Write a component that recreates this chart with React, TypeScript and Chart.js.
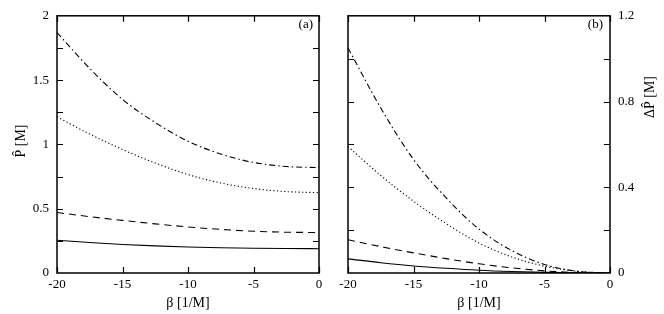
import React, { useEffect, useRef } from "react";
import { Chart, registerables } from "chart.js";

Chart.register(...registerables);

const betaValues = [-20, -17.5, -15, -12.5, -10, -7.5, -5, -2.5, 0];

// Panel (a): P-hat [M]
const pSolid = [0.255, 0.237, 0.222, 0.211, 0.202, 0.196, 0.192, 0.19, 0.189];
const pDashed = [0.47, 0.438, 0.409, 0.382, 0.358, 0.339, 0.325, 0.317, 0.315];
const pDotted = [1.215, 1.08, 0.96, 0.855, 0.765, 0.7, 0.657, 0.633, 0.625];
const pDashDot = [1.87, 1.59, 1.35, 1.17, 1.025, 0.925, 0.86, 0.828, 0.82];

// Panel (b): Delta P-hat [M]
const dSolid = [0.066, 0.048, 0.033, 0.022, 0.013, 0.007, 0.003, 0.001, 0];
const dDashed = [0.155, 0.123, 0.094, 0.067, 0.043, 0.024, 0.01, 0.002, 0];
const dDotted = [0.59, 0.455, 0.335, 0.23, 0.14, 0.075, 0.032, 0.008, 0];
const dDashDot = [1.05, 0.77, 0.53, 0.35, 0.205, 0.105, 0.04, 0.008, 0];

const xTicks = [-20, -15, -10, -5, 0];
const leftYTicks = [0, 0.5, 1, 1.5, 2];
const rightYTicks = [0, 0.4, 0.8, 1.2];

const FONT = '"Liberation Serif", "Times New Roman", Times, serif';

const styles = [
  { dash: [] as number[] },
  { dash: [7, 5] },
  { dash: [1.2, 2.4] },
  { dash: [6, 3, 1.5, 3] },
];

function makeDatasets(series: number[][]) {
  return series.map((vals, i) => ({
    data: vals.map((v, j) => ({ x: betaValues[j], y: v })),
    borderColor: "#000",
    borderWidth: 1.1,
    borderDash: styles[i].dash,
    pointRadius: 0,
    fill: false,
    cubicInterpolationMode: "monotone" as const,
  }));
}

function framePlugin(minorStep: number, yMax: number, opts: {
  yTitle: string; yTitleX: number; yTitleY: number; xTitleX: number; tag: string; tagX: number;
}) {
  return {
    id: "frame" + opts.tag.replace(/[()]/g, ""),
    afterDraw(chart: any) {
      const { ctx, chartArea } = chart;
      const { left, right, top, bottom } = chartArea;
      const xs = chart.scales.x;
      const ys = chart.scales.y;
      const tl = 6;
      ctx.save();
      ctx.strokeStyle = "#000";
      ctx.lineWidth = 1.5;
      ctx.setLineDash([]);
      ctx.strokeRect(left, top, right - left, bottom - top);
      ctx.lineWidth = 1.2;
      ctx.beginPath();
      xTicks.forEach((t) => {
        const px = Math.round(xs.getPixelForValue(t)) + 0.5;
        ctx.moveTo(px, bottom);
        ctx.lineTo(px, bottom - tl);
        ctx.moveTo(px, top);
        ctx.lineTo(px, top + tl);
      });
      const n = Math.round(yMax / minorStep);
      for (let i = 1; i < n; i++) {
        const py = Math.round(ys.getPixelForValue(i * minorStep)) + 0.5;
        ctx.moveTo(left, py);
        ctx.lineTo(left + tl, py);
        ctx.moveTo(right, py);
        ctx.lineTo(right - tl, py);
      }
      ctx.stroke();

      ctx.fillStyle = "#000";
      ctx.font = `14px ${FONT}`;
      ctx.textAlign = "center";
      ctx.textBaseline = "middle";
      ctx.fillText("\u03B2 [1/M]", opts.xTitleX, 303);
      ctx.save();
      ctx.translate(opts.yTitleX, opts.yTitleY);
      ctx.rotate(-Math.PI / 2);
      ctx.fillText(opts.yTitle, 0, 0);
      ctx.restore();
      ctx.font = `13px ${FONT}`;
      ctx.textAlign = "right";
      ctx.fillText(opts.tag, opts.tagX, 25);
      ctx.restore();
    },
  };
}

const tickFont = { family: FONT, size: 13 };
const fmt = (v: any) => String(Number(v));

function baseX() {
  return {
    type: "linear" as const,
    min: -20,
    max: 0,
    afterBuildTicks: (s: any) => { s.ticks = xTicks.map((v) => ({ value: v })); },
    ticks: { font: tickFont, color: "#000", padding: 4, maxRotation: 0, autoSkip: false, callback: fmt },
    grid: { display: false, drawTicks: false },
    border: { display: false },
    afterFit: (s: any) => { s.height = 41; },
  };
}

export default function App() {
  const leftRef = useRef<HTMLCanvasElement | null>(null);
  const rightRef = useRef<HTMLCanvasElement | null>(null);

  useEffect(() => {
    const left = new Chart(leftRef.current!, {
      type: "line",
      data: { datasets: makeDatasets([pSolid, pDashed, pDotted, pDashDot]) as any },
      options: {
        animation: false,
        responsive: false,
        devicePixelRatio: 1,
        layout: { padding: { top: 11, right: 13, left: 0, bottom: 0 } },
        plugins: { legend: { display: false }, tooltip: { enabled: false } },
        scales: {
          x: baseX() as any,
          y: {
            type: "linear",
            min: 0,
            max: 2,
            afterBuildTicks: (s: any) => { s.ticks = leftYTicks.map((v) => ({ value: v })); },
            ticks: { font: tickFont, color: "#000", padding: 8, callback: fmt },
            grid: { display: false, drawTicks: false },
            border: { display: false },
            afterFit: (s: any) => { s.width = 57; },
          },
        },
      },
      plugins: [framePlugin(0.25, 2, {
        yTitle: "P\u0302 [M]", yTitleX: 21, yTitleY: 141, xTitleX: 188, tag: "(a)", tagX: 313,
      })],
    });

    const right = new Chart(rightRef.current!, {
      type: "line",
      data: { datasets: makeDatasets([dSolid, dDashed, dDotted, dDashDot]) as any },
      options: {
        animation: false,
        responsive: false,
        devicePixelRatio: 1,
        layout: { padding: { top: 11, right: 0, left: 16, bottom: 0 } },
        plugins: { legend: { display: false }, tooltip: { enabled: false } },
        scales: {
          x: baseX() as any,
          y: {
            type: "linear",
            position: "right",
            min: 0,
            max: 1.2,
            afterBuildTicks: (s: any) => { s.ticks = rightYTicks.map((v) => ({ value: v })); },
            ticks: { font: tickFont, color: "#000", padding: 8, callback: fmt },
            grid: { display: false, drawTicks: false },
            border: { display: false },
            afterFit: (s: any) => { s.width = 54; },
          },
        },
      },
      plugins: [framePlugin(0.2, 1.2, {
        yTitle: "\u0394P\u0302 [M]", yTitleX: 318, yTitleY: 97, xTitleX: 147, tag: "(b)", tagX: 271,
      })],
    });

    return () => {
      left.destroy();
      right.destroy();
    };
  }, []);

  return (
    <div style={{ position: "fixed", left: 0, top: 0, width: 664, height: 314, background: "#fff" }}>
      <canvas ref={leftRef} width={332} height={314} style={{ position: "absolute", left: 0, top: 0 }} />
      <canvas ref={rightRef} width={332} height={314} style={{ position: "absolute", left: 332, top: 0 }} />
    </div>
  );
}
